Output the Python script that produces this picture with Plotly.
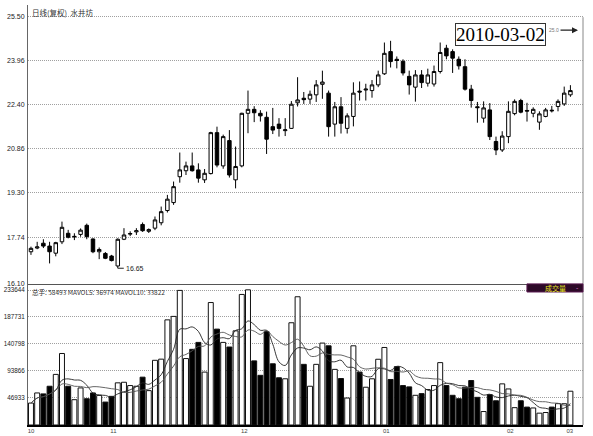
import pandas as pd
import plotly.graph_objects as go

# daily candles, 水井坊 (forward-adjusted), Oct 2009 - 2010-03-02
opens = [17.23, 17.36, 17.53, 17.43, 17.18, 17.58, 17.88, 17.75, 17.84, 18.16,
         17.68, 17.23, 17.17, 17.08, 16.73, 17.67, 17.85, 17.93, 18.19, 17.95,
         18.06, 18.25, 18.68, 18.96, 19.87, 20.08, 20.25, 20.11, 19.76, 19.98,
         21.42, 20.25, 21.14, 19.76, 20.25, 22.10, 22.24, 22.10, 21.96, 21.63,
         21.72, 21.49, 21.57, 22.47, 22.63, 22.60, 22.75, 23.12, 22.81, 21.72,
         22.33, 21.57, 21.99, 22.88, 22.92, 22.90, 23.10, 23.49, 24.27, 24.00,
         23.93, 23.40, 23.02, 23.45, 23.16, 23.13, 23.57, 24.39, 24.27, 24.00,
         23.74, 22.95, 22.33, 21.93, 22.22, 21.11, 20.81, 21.28, 22.09, 22.55,
         22.20, 22.10, 21.79, 21.99, 22.21, 22.34, 22.43, 22.75]
highs = [17.41, 17.58, 17.67, 17.58, 17.58, 18.29, 18.00, 17.88, 18.05, 18.22,
         17.70, 17.38, 17.22, 17.12, 17.70, 18.06, 17.95, 18.06, 18.26, 18.05,
         18.47, 18.82, 19.23, 19.70, 20.72, 20.40, 20.72, 20.34, 20.14, 21.45,
         21.63, 21.35, 21.51, 20.93, 22.12, 22.90, 22.35, 22.21, 22.16, 22.29,
         21.93, 21.93, 22.53, 23.37, 22.85, 22.90, 23.27, 23.60, 22.90, 22.50,
         22.67, 22.10, 23.19, 23.22, 23.14, 23.27, 23.60, 24.59, 24.65, 24.10,
         24.00, 23.60, 23.62, 23.62, 23.67, 23.78, 24.59, 24.51, 24.35, 24.10,
         24.00, 23.10, 22.50, 22.52, 22.46, 21.28, 21.47, 22.52, 22.59, 22.61,
         22.47, 22.31, 22.17, 22.29, 22.36, 22.59, 23.04, 23.09]
lows = [17.12, 17.32, 17.36, 16.82, 17.07, 17.50, 17.70, 17.64, 17.76, 17.67,
        17.18, 16.97, 16.97, 16.89, 16.65, 17.64, 17.78, 17.82, 17.93, 17.89,
        17.99, 18.16, 18.61, 18.88, 19.66, 19.93, 20.05, 19.66, 19.65, 19.95,
        20.20, 20.15, 19.84, 19.46, 20.20, 21.40, 21.79, 21.81, 20.67, 21.37,
        21.28, 21.30, 21.55, 22.34, 22.43, 22.43, 22.50, 22.61, 21.28, 21.28,
        21.39, 21.39, 21.64, 22.55, 22.55, 22.65, 23.02, 23.45, 23.71, 23.68,
        23.43, 22.76, 22.51, 22.99, 23.04, 23.04, 23.50, 24.00, 23.52, 23.64,
        22.90, 22.30, 21.77, 21.77, 21.16, 20.63, 20.74, 21.05, 22.03, 22.10,
        21.81, 21.96, 21.52, 21.96, 22.13, 22.17, 22.36, 22.68]
closes = [17.35, 17.40, 17.43, 17.23, 17.55, 18.09, 17.74, 17.77, 17.99, 17.76,
          17.23, 17.31, 17.00, 16.92, 17.67, 17.82, 17.87, 17.97, 17.97, 18.01,
          18.35, 18.64, 19.08, 19.52, 20.11, 20.25, 20.08, 19.82, 19.99, 21.42,
          20.28, 21.28, 19.93, 20.23, 22.10, 22.24, 22.12, 22.01, 21.19, 21.51,
          21.57, 21.52, 22.42, 22.57, 22.58, 22.77, 23.10, 23.20, 21.63, 22.33,
          21.75, 22.01, 22.81, 22.85, 22.95, 23.10, 23.45, 24.21, 23.92, 23.96,
          23.52, 23.10, 23.45, 23.18, 23.45, 23.57, 24.24, 24.12, 24.04, 23.77,
          22.95, 22.55, 22.30, 22.29, 21.28, 20.81, 21.30, 22.17, 22.52, 22.14,
          22.18, 22.24, 22.08, 22.22, 22.19, 22.52, 22.81, 22.90]
volumes = [38000, 55500, 53800, 67100, 87600, 123800, 67100, 43800, 64200, 45500,
           55500, 51300, 39700, 49600, 73000, 74000, 68300, 67100, 82800, 59500,
           112000, 114000, 182000, 188000, 233000, 115000, 131000, 143000, 91600, 212000,
           166000, 143000, 135000, 163000, 226000, 234000, 111000, 86000, 161600, 106000,
           81800, 80000, 177000, 222000, 105000, 67100, 105000, 141800, 137100, 96300,
           80500, 46700, 137100, 91600, 65400, 80000, 113800, 134200, 78800, 101000,
           68300, 66000, 51400, 54300, 61300, 68300, 108000, 68300, 51400, 45500,
           65400, 77000, 47900, 23300, 52500, 42000, 71200, 62400, 30000, 42000,
           31000, 29500, 20500, 21600, 31000, 37000, 36800, 58493]

price_ticks = [16.10, 17.74, 19.30, 20.86, 22.40, 23.96, 25.50]
vol_ticks = [46933, 93866, 140798, 187731, 233644]
month_labels = ["10", "11", "12", "01", "02", "03"]
month_label_pos = [0.0, 13.3, 34.4, 57.3, 77.3, 86.9]

idx = list(range(len(opens)))
vol = pd.Series(volumes)
ma5 = vol.rolling(5, min_periods=1).mean()
ma10 = vol.rolling(10, min_periods=1).mean()
bar_colors = ["#ffffff" if c >= o else "#000000" for o, c in zip(opens, closes)]

GRID = "#a0a0a0"
TXT = "#222222"
SPLIT = 0.336
XR = [-0.48, 89.03]

fig = go.Figure()
fig.add_trace(go.Candlestick(
    x=idx, open=opens, high=highs, low=lows, close=closes,
    increasing=dict(line=dict(color="#000000", width=1), fillcolor="#ffffff"),
    decreasing=dict(line=dict(color="#000000", width=1), fillcolor="#000000"),
    whiskerwidth=0, hoverinfo="skip", showlegend=False,
    xaxis="x", yaxis="y",
))
fig.add_trace(go.Bar(
    x=idx, y=volumes, width=0.8,
    marker=dict(color=bar_colors, line=dict(color="#111111", width=1)),
    hoverinfo="skip", showlegend=False, xaxis="x2", yaxis="y2",
))
for ma, col in [(ma5, "#222222"), (ma10, "#555555")]:
    fig.add_trace(go.Scatter(
        x=idx, y=ma, mode="lines", line=dict(color=col, width=0.9, shape="spline"),
        hoverinfo="skip", showlegend=False, xaxis="x2", yaxis="y2",
    ))

fig.update_layout(
    width=593, height=436,
    margin=dict(l=28, r=10, t=5, b=11),
    paper_bgcolor="#ffffff", plot_bgcolor="#ffffff",
    font=dict(family="Liberation Sans, Arial", color=TXT),
    boxgap=0.2,
    xaxis=dict(domain=[0, 1], range=XR, anchor="y", showticklabels=False,
               showgrid=False, zeroline=False, rangeslider=dict(visible=False),
               showline=True, linecolor="#555555", linewidth=1, ticks="",
               automargin=False),
    xaxis2=dict(domain=[0, 1], range=XR, anchor="y2", showgrid=False, zeroline=False,
                tickvals=month_label_pos, ticktext=month_labels, ticks="",
                tickfont=dict(size=6, color="#444444"), ticklabelstandoff=-1,
                showline=True, linecolor="#000000", linewidth=2, automargin=False),
    yaxis=dict(domain=[SPLIT, 1], range=[16.10, 25.91], tickvals=price_ticks,
               ticktext=[f"{v:.2f}" for v in price_ticks], tickfont=dict(size=7),
               showgrid=True, gridcolor=GRID, griddash="1px,1px", gridwidth=1,
               zeroline=False, showline=True, linecolor="#666666", ticks="",
               ticklabelstandoff=1, automargin=False),
    yaxis2=dict(domain=[0, SPLIT], range=[0, 244300], tickvals=vol_ticks,
                ticktext=[str(v) for v in vol_ticks], tickfont=dict(size=6.3),
                showgrid=True, gridcolor=GRID, griddash="1px,1px", gridwidth=1,
                zeroline=False, showline=True, linecolor="#666666", ticks="",
                ticklabelstandoff=1, automargin=False),
    shapes=[
        dict(type="line", xref="paper", yref="paper", x0=1, x1=1, y0=0, y1=0.971,
             line=dict(color="#888888", width=1)),
        dict(type="rect", xref="paper", yref="paper", x0=0.899, x1=1.0,
             y0=0.3167, y1=SPLIT, fillcolor="#2d0a28", line=dict(color="#5a1a50", width=1)),
    ],
)

fig.add_annotation(xref="paper", yref="paper", x=0.003, y=1.0, xanchor="left", yanchor="top",
                   text="日线(复权)  水井坊", showarrow=False,
                   font=dict(family="Noto Sans CJK SC", size=7.5, color="#333333"))
fig.add_annotation(xref="paper", yref="paper", x=0.003, y=SPLIT - 0.002, xanchor="left",
                   yanchor="top", showarrow=False,
                   text="总手: 58493 MAVOL5: 36974 MAVOL10: 33822",
                   font=dict(family="Noto Sans CJK SC", size=6.5, color="#333333"))
fig.add_annotation(xref="paper", yref="paper", x=0.95, y=0.3265, showarrow=False,
                   xanchor="center", yanchor="middle",
                   text="成交量", font=dict(family="Noto Sans CJK SC", size=7, color="#e8e820"))
fig.add_annotation(xref="paper", yref="paper", x=0.99, y=0.3265, showarrow=False,
                   xanchor="center", yanchor="middle",
                   text="-", font=dict(size=7, color="#d070c0"))
fig.add_annotation(x=14, y=16.65, xref="x", yref="y", text="16.65", showarrow=True,
                   arrowhead=0, arrowwidth=1, arrowcolor="#222222", ax=6, ay=0,
                   xanchor="left", font=dict(size=7, color="#222222"))
fig.add_annotation(xref="paper", yref="paper", x=0.852, y=0.9286, text="2010-03-02",
                   xanchor="center", yanchor="middle",
                   showarrow=False, bgcolor="#ffffff", bordercolor="#333333",
                   borderwidth=1, borderpad=0,
                   font=dict(family="Liberation Serif, Times New Roman", size=19, color="#000000"))
fig.add_annotation(xref="paper", yref="paper", x=0.991, y=0.94, text="25.0",
                   showarrow=True, arrowhead=2, arrowsize=1, arrowwidth=1.2,
                   arrowcolor="#222222", ax=-24, ay=0, font=dict(size=5, color="#777777"))

# the page's default body margin would shift the figure by 8px
fig.write_html("out.html", config={"displayModeBar": False},
               post_script="document.body.style.margin='0';")
